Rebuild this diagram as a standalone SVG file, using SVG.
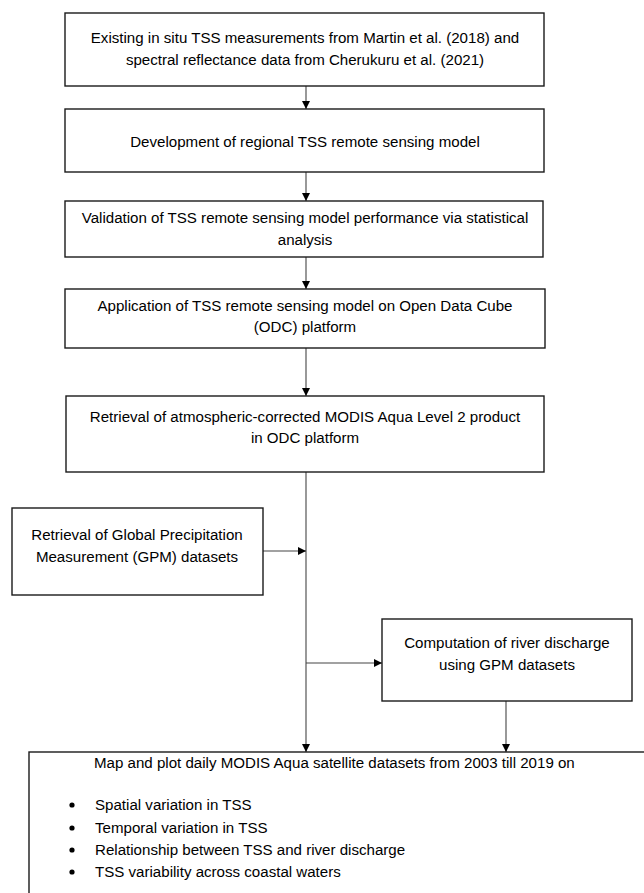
<svg xmlns="http://www.w3.org/2000/svg" width="644" height="893" viewBox="0 0 644 893">
<style>
.box{fill:#fff;stroke:#1a1a1a;stroke-width:1.4}
.t{font-family:"Liberation Sans",Arial,sans-serif;font-size:15.1px;fill:#000;text-anchor:middle}
.l{font-family:"Liberation Sans",Arial,sans-serif;font-size:15.1px;fill:#000}
.c{fill:none;stroke:#444;stroke-width:1.1}
</style>
<defs>
<marker id="ah" viewBox="0 0 10 10" refX="10" refY="5" markerWidth="8" markerHeight="8" markerUnits="userSpaceOnUse" orient="auto">
<path d="M0,0 L10,5 L0,10 Z" fill="#000"/>
</marker>
</defs>
<rect width="644" height="893" fill="#fff"/>
<g id="connectors">
<line class="c" x1="306" y1="86" x2="306" y2="109" marker-end="url(#ah)"/>
<line class="c" x1="306" y1="172" x2="306" y2="201" marker-end="url(#ah)"/>
<line class="c" x1="306" y1="257" x2="306" y2="289" marker-end="url(#ah)"/>
<line class="c" x1="306" y1="348" x2="306" y2="396" marker-end="url(#ah)"/>
<line class="c" x1="306" y1="472" x2="306" y2="752" marker-end="url(#ah)"/>
<line class="c" x1="263" y1="551" x2="306" y2="551" marker-end="url(#ah)"/>
<line class="c" x1="306" y1="663" x2="382" y2="663" marker-end="url(#ah)"/>
<line class="c" x1="506" y1="701" x2="506" y2="752" marker-end="url(#ah)"/>
</g>
<g id="n1">
<rect class="box" x="65" y="13" width="479" height="73"/>
<text class="t" x="305" y="43">Existing in situ TSS measurements from Martin et al. (2018) and</text>
<text class="t" x="305" y="65">spectral reflectance data from Cherukuru et al. (2021)</text>
</g>
<g id="n2">
<rect class="box" x="65" y="109" width="479" height="63"/>
<text class="t" x="305" y="147">Development of regional TSS remote sensing model</text>
</g>
<g id="n3">
<rect class="box" x="65" y="201" width="478" height="56"/>
<text class="t" x="305" y="223">Validation of TSS remote sensing model performance via statistical</text>
<text class="t" x="305" y="245">analysis</text>
</g>
<g id="n4">
<rect class="box" x="65" y="289" width="480" height="59"/>
<text class="t" x="305" y="311">Application of TSS remote sensing model on Open Data Cube</text>
<text class="t" x="305" y="332">(ODC) platform</text>
</g>
<g id="n5">
<rect class="box" x="66" y="396" width="478" height="76"/>
<text class="t" x="305" y="422">Retrieval of atmospheric-corrected MODIS Aqua Level 2 product</text>
<text class="t" x="305" y="443">in ODC platform</text>
</g>
<g id="n6">
<rect class="box" x="12" y="508" width="251" height="87"/>
<text class="t" x="137" y="540">Retrieval of Global Precipitation</text>
<text class="t" x="137" y="562">Measurement (GPM) datasets</text>
</g>
<g id="n7">
<rect class="box" x="382" y="619" width="250" height="82"/>
<text class="t" x="507" y="648">Computation of river discharge</text>
<text class="t" x="507" y="670">using GPM datasets</text>
</g>
<g id="n8">
<rect class="box" x="29" y="752" width="640" height="160"/>
<text class="l" x="94" y="768">Map and plot daily MODIS Aqua satellite datasets from 2003 till 2019 on</text>
<circle cx="72" cy="805" r="2.6" fill="#000"/>
<circle cx="72" cy="828" r="2.6" fill="#000"/>
<circle cx="72" cy="850" r="2.6" fill="#000"/>
<circle cx="72" cy="872" r="2.6" fill="#000"/>
<text class="l" x="95" y="810">Spatial variation in TSS</text>
<text class="l" x="95" y="833">Temporal variation in TSS</text>
<text class="l" x="95" y="855">Relationship between TSS and river discharge</text>
<text class="l" x="95" y="877">TSS variability across coastal waters</text>
</g>
</svg>
